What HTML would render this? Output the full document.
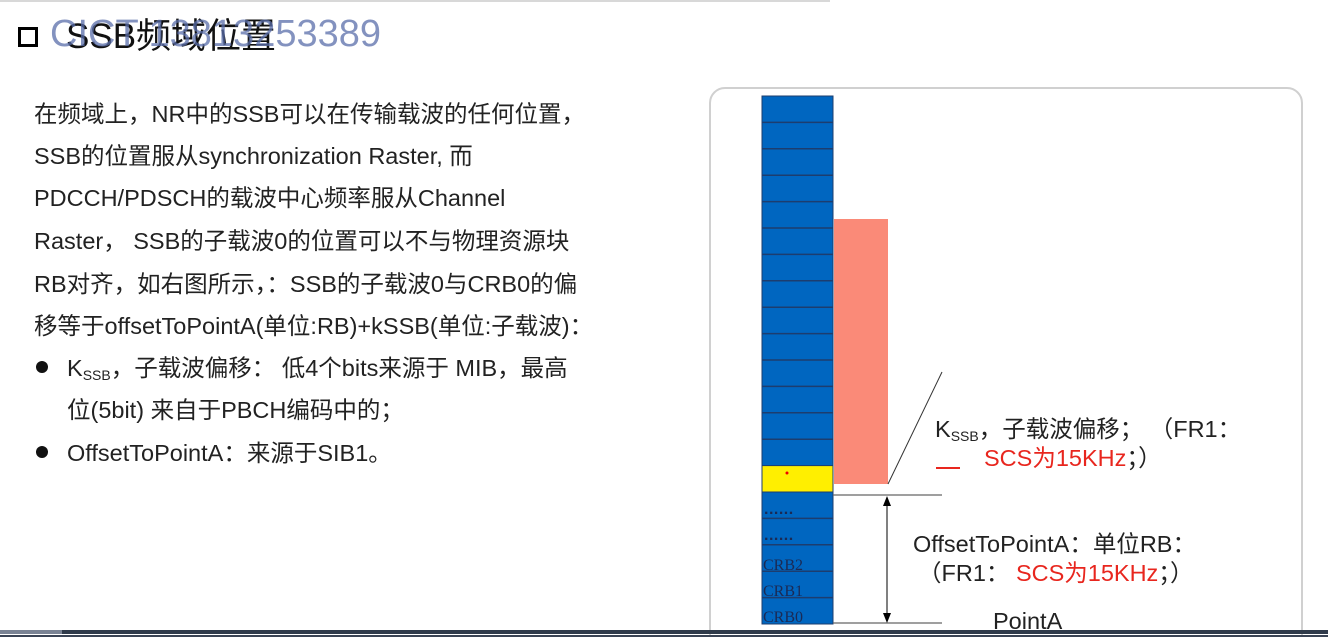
<!DOCTYPE html>
<html><head><meta charset="utf-8"><style>
html,body{margin:0;width:1328px;height:637px;overflow:hidden}
body{background:#fff;position:relative;font-family:"Liberation Sans","Noto Sans CJK SC",sans-serif;color:#222}
.t{position:absolute;white-space:nowrap;font-size:23.5px;line-height:30px}
.r{color:#e8261e}
sub{font-size:14px;vertical-align:-4px;line-height:0}
</style></head><body>
<div style="position:absolute;left:0;top:0;width:830px;height:2px;background:#d8d8d8"></div>
<div style="position:absolute;left:18px;top:27px;width:14px;height:14px;border:3px solid #000"></div>
<div class="t" style="left:66px;top:16px;font-size:35px;line-height:42px;color:#111">SSB频域位置</div>
<div class="t" style="left:50px;top:13px;font-size:38px;line-height:42px;color:rgba(90,110,170,0.75)">CICT 13813253389</div>

<div class="t" style="left:34px;top:99px">在频域上，NR中的SSB可以在传输载波的任何位置，</div>
<div class="t" style="left:34px;top:141px">SSB的位置服从synchronization Raster, 而</div>
<div class="t" style="left:34px;top:183px">PDCCH/PDSCH的载波中心频率服从Channel</div>
<div class="t" style="left:34px;top:226px">Raster， SSB的子载波0的位置可以不与物理资源块</div>
<div class="t" style="left:34px;top:269px">RB对齐，如右图所示，：SSB的子载波0与CRB0的偏</div>
<div class="t" style="left:34px;top:311px">移等于offsetToPointA(单位:RB)+kSSB(单位:子载波)：</div>
<div style="position:absolute;left:36px;top:361px;width:12px;height:12px;border-radius:50%;background:#111"></div>
<div class="t" style="left:67px;top:353px">K<sub>SSB</sub>，子载波偏移： 低4个bits来源于 MIB，最高</div>
<div class="t" style="left:67px;top:395px">位(5bit) 来自于PBCH编码中的；</div>
<div style="position:absolute;left:36px;top:446px;width:12px;height:12px;border-radius:50%;background:#111"></div>
<div class="t" style="left:67px;top:438px">OffsetToPointA：来源于SIB1。</div>

<div style="position:absolute;left:709px;top:87px;width:590px;height:570px;border:2px solid #d0d0d0;border-radius:16px"></div>

<svg style="position:absolute;left:0;top:0" width="1328" height="637">
<rect x="762" y="96" width="71" height="528" fill="#0066c0" stroke="#1d3d6e" stroke-width="1"/>
<g stroke="#1d3d6e" stroke-width="1.5">
<line x1="762" x2="833" y1="122.4" y2="122.4"/><line x1="762" x2="833" y1="148.8" y2="148.8"/>
<line x1="762" x2="833" y1="175.2" y2="175.2"/><line x1="762" x2="833" y1="201.6" y2="201.6"/>
<line x1="762" x2="833" y1="228" y2="228"/><line x1="762" x2="833" y1="254.4" y2="254.4"/>
<line x1="762" x2="833" y1="280.8" y2="280.8"/><line x1="762" x2="833" y1="307.2" y2="307.2"/>
<line x1="762" x2="833" y1="333.6" y2="333.6"/><line x1="762" x2="833" y1="360" y2="360"/>
<line x1="762" x2="833" y1="386.4" y2="386.4"/><line x1="762" x2="833" y1="412.8" y2="412.8"/>
<line x1="762" x2="833" y1="439.2" y2="439.2"/><line x1="762" x2="833" y1="518.4" y2="518.4"/>
<line x1="762" x2="833" y1="544.8" y2="544.8"/><line x1="762" x2="833" y1="571.2" y2="571.2"/>
<line x1="762" x2="833" y1="597.6" y2="597.6"/>
</g>
<rect x="762" y="465.6" width="71" height="26.4" fill="#ffef00" stroke="#1d3d6e" stroke-width="1"/>
<circle cx="787" cy="473" r="1.5" fill="#e00"/>
<rect x="834" y="219" width="54" height="265" fill="#fa8a78"/>
<line x1="942" y1="372" x2="888" y2="484" stroke="#333" stroke-width="1"/>
<line x1="833" y1="495" x2="942" y2="495" stroke="#666" stroke-width="1.2"/>
<line x1="833" y1="623" x2="942" y2="623" stroke="#666" stroke-width="1.2"/>
<line x1="887" y1="504" x2="887" y2="615" stroke="#000" stroke-width="1"/>
<polygon points="887,496 883,506 891,506" fill="#000"/>
<polygon points="887,623 883,613 891,613" fill="#000"/>
<g fill="#1a2a55">
<text x="764" y="514" font-family="Liberation Sans,sans-serif" font-size="16" font-weight="bold" letter-spacing="0.5">......</text>
<text x="764" y="540" font-family="Liberation Sans,sans-serif" font-size="16" font-weight="bold" letter-spacing="0.5">......</text>
</g>
<g font-family="Liberation Serif,serif" font-size="16" fill="#1a2a55">
<text x="763" y="570">CRB2</text>
<text x="763" y="596">CRB1</text>
<text x="763" y="622">CRB0</text>
</g>
<line x1="936" y1="468" x2="960" y2="468" stroke="#e8261e" stroke-width="2"/>
</svg>

<div class="t" style="left:935px;top:414px">K<sub>SSB</sub>，子载波偏移； （FR1：</div>
<div class="t r" style="left:984px;top:443px">SCS为15KHz<span style="color:#222">；）</span></div>
<div class="t" style="left:913px;top:529px">OffsetToPointA：单位RB：</div>
<div class="t" style="left:918px;top:558px">（FR1： <span class="r">SCS为15KHz</span>；）</div>
<div class="t" style="left:993px;top:606px">PointA</div>

<div style="position:absolute;left:0;top:630px;width:1328px;height:4px;background:#2f3a4a"></div>
<div style="position:absolute;left:0;top:630px;width:62px;height:4px;background:#7a8394"></div>
<div style="position:absolute;left:0;top:635px;width:1328px;height:2px;background:#3a4354"></div>
</body></html>
